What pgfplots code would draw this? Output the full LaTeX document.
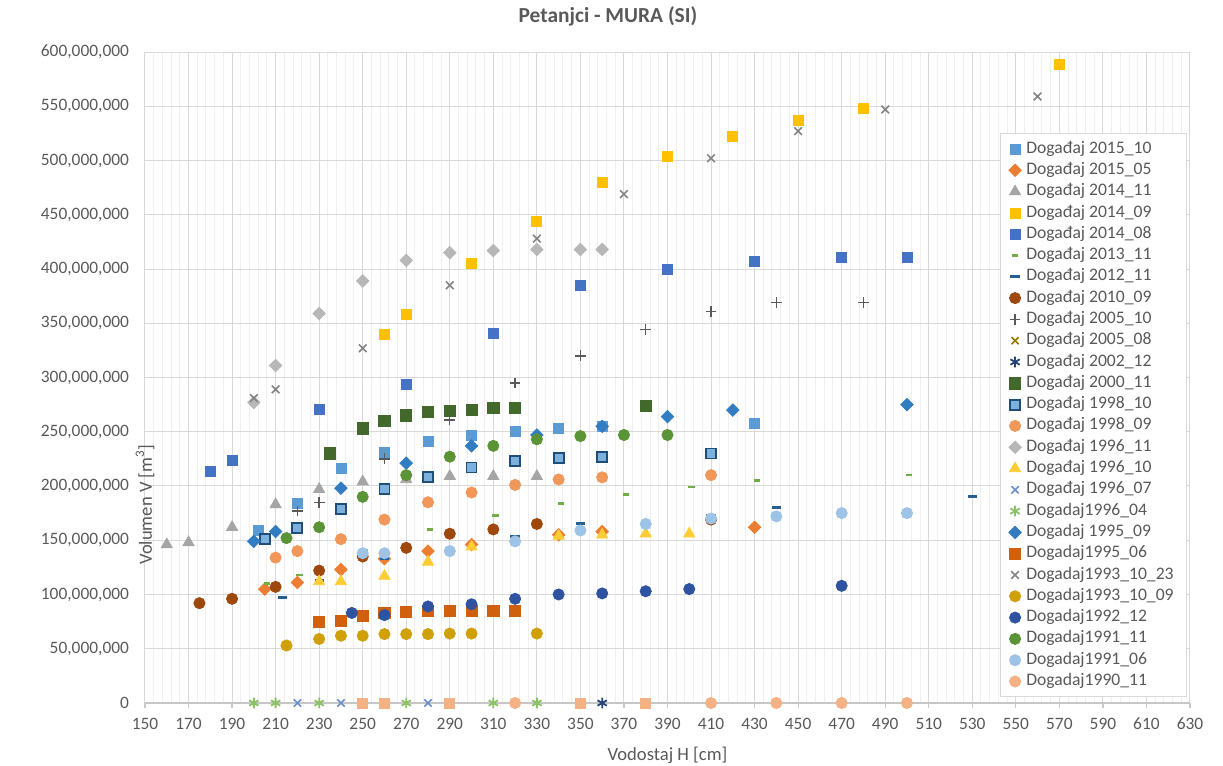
\documentclass[border=0pt]{standalone}
\usepackage{fontspec}
\setmainfont{Carlito}
\usepackage{pgfplots}
\pgfplotsset{compat=1.18}

\definecolor{txt}{HTML}{595959}
\definecolor{gridmaj}{HTML}{D9D9D9}
\definecolor{gridmin}{HTML}{EFEFEF}
\definecolor{c1510}{HTML}{5B9BD5}
\definecolor{c1505}{HTML}{ED7D31}
\definecolor{c1411}{HTML}{A5A5A5}
\definecolor{c1409}{HTML}{FFC000}
\definecolor{c1408}{HTML}{4472C4}
\definecolor{c1311}{HTML}{70AD47}
\definecolor{c1211}{HTML}{255E91}
\definecolor{c1009}{HTML}{9E480E}
\definecolor{c0510}{HTML}{595959}
\definecolor{c0508}{HTML}{997300}
\definecolor{c0212}{HTML}{264478}
\definecolor{c0011}{HTML}{43682B}
\definecolor{c9810f}{HTML}{7EB0DE}
\definecolor{c9810b}{HTML}{1F4E79}
\definecolor{c9809}{HTML}{F1975A}
\definecolor{c9611}{HTML}{B7B7B7}
\definecolor{c9610}{HTML}{FFCD33}
\definecolor{c9607}{HTML}{698ED0}
\definecolor{c9604}{HTML}{8CC168}
\definecolor{c9509}{HTML}{327DC2}
\definecolor{c9506}{HTML}{D0600E}
\definecolor{c931023}{HTML}{848484}
\definecolor{c931009}{HTML}{CFA00A}
\definecolor{c9212}{HTML}{2E54A1}
\definecolor{c9111}{HTML}{5B9337}
\definecolor{c9106}{HTML}{9DC3E6}
\definecolor{c9011}{HTML}{F4B183}

\pgfplotsset{dia/.style={only marks, mark=square*, mark size=2.2pt, mark options={rotate=45}}}

\begin{document}
\begin{tikzpicture}
\path[use as bounding box] (-72.5pt,-31.5pt) rectangle (539pt,351.5pt);
\begin{axis}[
    scale only axis, width=522.5pt, height=325.5pt,
    xmin=150, xmax=630, ymin=0, ymax=600,
    xtick={150,170,...,630}, minor x tick num=4,
    ytick={0,50,...,600},
    yticklabels={0,{50,000,000},{100,000,000},{150,000,000},{200,000,000},{250,000,000},{300,000,000},{350,000,000},{400,000,000},{450,000,000},{500,000,000},{550,000,000},{600,000,000}},
    /pgf/number format/assume math mode=true,
    xmajorgrids, xminorgrids, ymajorgrids,
    major grid style={gridmaj, line width=0.5pt},
    minor grid style={gridmin, line width=0.5pt},
    axis x line*=bottom, axis y line*=left,
    axis line style={-},
    x axis line style={color=gridmaj!80!gray, line width=0.6pt},
    y axis line style={draw=none},
    tick align=outside,
    major tick length=2.5pt, minor tick length=0pt,
    xtick style={color=gridmaj!80!gray, line width=0.6pt},
    ytick style={draw=none},
    tick label style={font=\fontsize{8.7}{10}\selectfont, text=txt},
    yticklabel style={xshift=-2pt},
    xticklabel style={yshift=-1.5pt},
    title={Petanjci - MURA (SI)},
    title style={font=\fontsize{10.7}{12}\selectfont\bfseries, text=txt, at={(axis description cs:0.443,1)}, anchor=center, yshift=12pt},
    xlabel={Vodostaj H [cm]},
    ylabel={Volumen V [m\textsuperscript{3}]},
    every axis x label/.style={at={(axis description cs:0.5,0)}, anchor=center, yshift=-26pt, font=\fontsize{9.3}{11}\selectfont, text=txt},
    every axis y label/.style={at={(axis description cs:0,0.5)}, rotate=90, anchor=center, xshift=-63.5pt, font=\fontsize{9.3}{11}\selectfont, text=txt},
    legend cell align=left,
    legend style={at={(1,0)}, anchor=south east, xshift=-1.5pt, yshift=3pt,
        draw=gridmaj, fill=white, font=\fontsize{8.8}{10}\selectfont, text=txt,
        row sep=1.55pt, inner xsep=4pt, inner ysep=3pt,
        nodes={inner xsep=2.5pt, inner ysep=0pt, text height=6.6pt, text depth=2.5pt}},
]
% order as in the legend; later series are drawn on top
\addplot[only marks, mark=square*, mark size=2.5pt, color=c1510] coordinates {
 (202,159) (220,184) (240,216) (260,231) (280,241) (300,247) (320,250) (340,253) (360,255) (430,258)};
\addlegendentry{Događaj 2015\_10}
\addplot[dia, color=c1505] coordinates {
 (205,105) (220,111) (240,123) (260,133) (280,140) (300,146) (340,155) (360,158) (430,162)};
\addlegendentry{Događaj 2015\_05}
\addplot[only marks, mark=triangle*, mark size=3.2pt, color=c1411] coordinates {
 (160,146) (170,148) (190,162) (210,183) (230,197) (250,204) (270,206) (290,209) (310,209) (330,209)};
\addlegendentry{Događaj 2014\_11}
\addplot[only marks, mark=square*, mark size=2.5pt, color=c1409] coordinates {
 (260,340) (270,358) (300,405) (330,444) (360,480) (390,504) (420,522) (450,537) (480,548) (570,589)};
\addlegendentry{Događaj 2014\_09}
\addplot[only marks, mark=square*, mark size=2.5pt, color=c1408] coordinates {
 (180,213) (190,224) (230,271) (270,294) (310,341) (350,385) (390,400) (430,407) (470,411) (500,411)};
\addlegendentry{Događaj 2014\_08}
\addplot[only marks, mark=-, mark size=1.6pt, color=c1311, mark options={line width=1.3pt}] coordinates {
 (206,110) (221,118) (251,141) (281,160) (311,173) (341,184) (371,192) (401,199) (431,205) (501,210)};
\addlegendentry{Događaj 2013\_11}
\addplot[only marks, mark=-, mark size=2.3pt, color=c1211, mark options={line width=1.5pt}] coordinates {
 (213,97) (230,113) (260,133) (320,153) (350,165) (380,167) (410,173) (440,180) (530,190)};
\addlegendentry{Događaj 2012\_11}
\addplot[only marks, mark=*, mark size=2.8pt, color=c1009] coordinates {
 (175,92) (190,96) (210,107) (230,122) (250,135) (270,143) (290,156) (310,160) (330,165) (410,169)};
\addlegendentry{Događaj 2010\_09}
\addplot[only marks, mark=+, mark size=2.7pt, color=c0510, mark options={line width=0.7pt}] coordinates {
 (220,177) (230,185) (260,225) (290,261) (320,295) (350,320) (380,344) (410,361) (440,369) (480,369)};
\addlegendentry{Događaj 2005\_10}
\addlegendimage{only marks, mark=x, mark size=2.5pt, color=c0508, mark options={line width=0.8pt}}
\addlegendentry{Događaj 2005\_08}
\addplot[only marks, mark=asterisk, mark size=2.7pt, color=c0212, mark options={line width=0.9pt}] coordinates {
 (360,0)};
\addlegendentry{Događaj 2002\_12}
\addplot[only marks, mark=square*, mark size=2.8pt, color=c0011] coordinates {
 (235,230) (250,253) (260,260) (270,265) (280,268) (290,269) (300,270) (310,272) (320,272) (380,274)};
\addlegendentry{Događaj 2000\_11}
\addplot[only marks, mark=square*, mark size=2.5pt, mark options={draw=c9810b, fill=c9810f, line width=0.9pt}] coordinates {
 (205,151) (220,161) (240,179) (260,197) (280,208) (300,217) (320,223) (340,226) (360,227) (410,230)};
\addlegendentry{Događaj 1998\_10}
\addplot[only marks, mark=*, mark size=2.8pt, color=c9809] coordinates {
 (210,134) (220,140) (240,151) (260,169) (280,185) (300,194) (320,201) (340,206) (360,208) (410,210)};
\addlegendentry{Događaj 1998\_09}
\addplot[dia, color=c9611] coordinates {
 (200,277) (210,311) (230,359) (250,389) (270,408) (290,415) (310,417) (330,418) (350,418) (360,418)};
\addlegendentry{Događaj 1996\_11}
\addplot[only marks, mark=triangle*, mark size=3.2pt, color=c9610] coordinates {
 (230,112) (240,112) (260,117) (280,130) (300,144) (340,154) (360,155) (380,156) (400,156)};
\addlegendentry{Događaj 1996\_10}
\addplot[only marks, mark=x, mark size=2.6pt, color=c9607, mark options={line width=0.8pt}] coordinates {
 (220,0) (240,0) (280,0)};
\addlegendentry{Događaj 1996\_07}
\addplot[only marks, mark=asterisk, mark size=2.7pt, color=c9604, mark options={line width=0.9pt}] coordinates {
 (200,0) (210,0) (230,0) (270,0) (310,0) (330,0)};
\addlegendentry{Dogadaj1996\_04}
\addplot[dia, color=c9509] coordinates {
 (200,149) (210,158) (240,198) (270,221) (300,237) (330,247) (360,255) (390,264) (420,270) (500,275)};
\addlegendentry{Dogadaj 1995\_09}
\addplot[only marks, mark=square*, mark size=2.8pt, color=c9506] coordinates {
 (230,75) (240,76) (250,80) (260,83) (270,84) (280,85) (290,85) (300,85) (310,85) (320,85)};
\addlegendentry{Dogadaj1995\_06}
\addplot[only marks, mark=x, mark size=2.7pt, color=c931023, mark options={line width=0.8pt}] coordinates {
 (200,281) (210,289) (250,327) (290,385) (330,428) (370,469) (410,502) (450,527) (490,547) (560,559)};
\addlegendentry{Dogadaj1993\_10\_23}
\addplot[only marks, mark=*, mark size=2.8pt, color=c931009] coordinates {
 (215,53) (230,59) (240,62) (250,62) (260,63.5) (270,63.5) (280,63.5) (290,64) (300,64) (330,64)};
\addlegendentry{Dogadaj1993\_10\_09}
\addplot[only marks, mark=*, mark size=2.8pt, color=c9212] coordinates {
 (245,83) (260,81) (280,89) (300,91) (320,96) (340,100) (360,101) (380,103) (400,105) (470,108)};
\addlegendentry{Dogadaj1992\_12}
\addplot[only marks, mark=*, mark size=2.8pt, color=c9111] coordinates {
 (215,152) (230,162) (250,190) (270,210) (290,227) (310,237) (330,243) (350,246) (370,247) (390,247)};
\addlegendentry{Dogadaj1991\_11}
\addplot[only marks, mark=*, mark size=2.8pt, color=c9106] coordinates {
 (250,138) (260,138) (290,140) (320,149) (350,159) (380,165) (410,170) (440,172) (470,175) (500,175)};
\addlegendentry{Dogadaj1991\_06}
\addplot[only marks, mark=*, mark size=2.8pt, color=c9011] coordinates {
 (320,0) (410,0) (440,0) (470,0) (500,0)};
\addlegendentry{Dogadaj1990\_11}
\addplot[only marks, mark=square*, mark size=2.5pt, color=c9011, forget plot] coordinates {
 (250,0) (260,0) (290,0) (350,0) (380,0)};
\end{axis}
\end{tikzpicture}
\end{document}
